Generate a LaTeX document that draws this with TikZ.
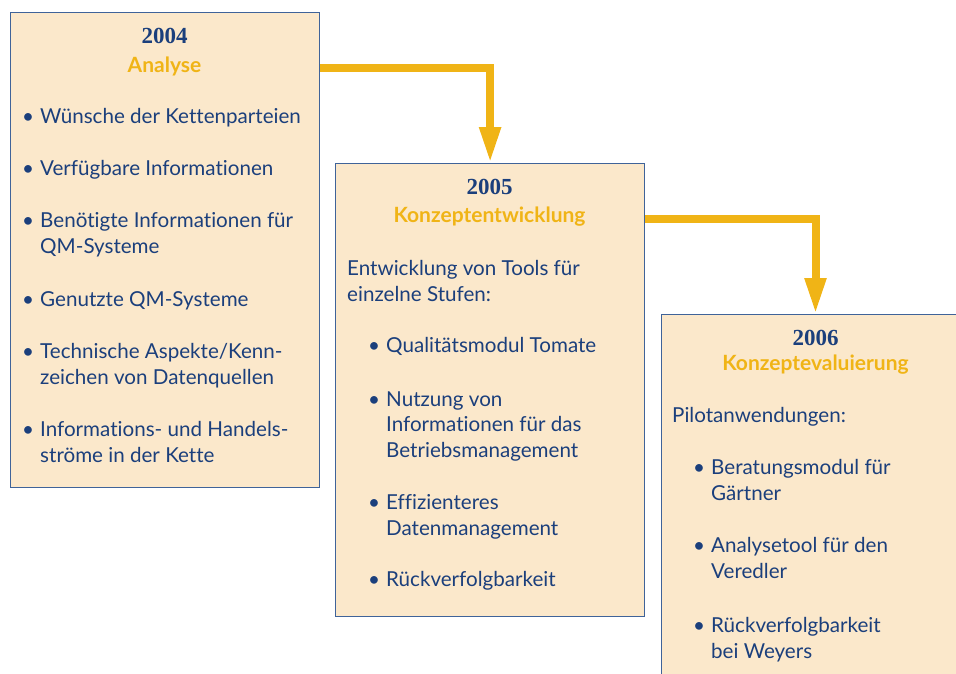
\documentclass[tikz,border=0pt]{standalone}
\usepackage{fontspec}
\setmainfont[Ligatures=NoCommon]{Lato}
\newfontfamily\yearfont{Liberation Serif}
\usetikzlibrary{arrows.meta}
\definecolor{ink}{HTML}{1B3F7C}
\definecolor{gold}{HTML}{F0B416}
\definecolor{paper}{HTML}{FBE8CB}
\definecolor{frame}{HTML}{3F6399}
\tikzset{
  panel/.style={draw=frame, line width=1.2pt, fill=paper, inner sep=0pt,
    minimum width=309pt, anchor=north west},
  body/.style={anchor=base west, inner sep=0pt, text=ink,
    font=\fontsize{20.6}{26}\selectfont},
  dot/.style={anchor=base, inner sep=0pt, text=ink,
    font=\fontsize{20.6}{26}\selectfont},
  year/.style={anchor=base, inner sep=0pt, text=ink,
    font=\yearfont\bfseries\fontsize{23}{26}\selectfont},
  phase/.style={anchor=base, inner sep=0pt, text=gold,
    font=\bfseries\fontsize{21}{26}\selectfont},
  flow/.style={draw=gold, line width=8pt,
    -{Triangle[width=20pt,length=36pt]}}
}
\newcommand\txtline[3]{\node[body] (#1) at (#2) {#3};}
\newcommand\bulpt[2]{\node[dot] (#1) at (#2) {\textbullet};}
\begin{document}
\begin{tikzpicture}[x=1pt,y=-1pt]
\useasboundingbox (0,0) rectangle (956,673);
\clip (0,0) rectangle (956,673);

% phase panels (the last one runs past the right and bottom edges)
\node[panel, minimum height=475pt] (b1) at (10,12) {};
\node[panel, minimum height=453pt] (b2) at (335,163) {};
\node[panel, minimum height=453pt, minimum width=340pt] (b3) at (661,314) {};

% connectors between phases
\coordinate (r1) at (0,68);
\coordinate (r2) at (0,219);
\coordinate (c3) at (815.5,0);
\draw[flow] (b1.east |- r1) -| (b2.north);
\draw[flow] (b2.east |- r2) -| (c3 |- b3.north);

% 2004
\node[year]  (y1) at (164.5,43) {2004};
\node[phase] (p1) at (164.5,72) {Analyse};
\bulpt{d11}{28,123} \txtline{t11}{40,123}{Wünsche der Kettenparteien}
\bulpt{d12}{28,175} \txtline{t12}{40,175}{Verfügbare Informationen}
\bulpt{d13}{28,227} \txtline{t13}{40,227}{Benötigte Informationen für}
                    \txtline{t13b}{40,253}{QM-Systeme}
\bulpt{d14}{28,306} \txtline{t14}{40,306}{Genutzte QM-Systeme}
\bulpt{d15}{28,358} \txtline{t15}{40,358}{Technische Aspekte/Kenn-}
                    \txtline{t15b}{40,384}{zeichen von Datenquellen}
\bulpt{d16}{28,436} \txtline{t16}{40,436}{Informations- und Handels-}
                    \txtline{t16b}{40,462}{ströme in der Kette}

% 2005
\node[year]  (y2) at (489.5,194) {2005};
\node[phase] (p2) at (489.5,222) {Konzeptentwicklung};
\txtline{t20}{347,275}{Entwicklung von Tools für}
\txtline{t20b}{347,301}{einzelne Stufen:}
\bulpt{d21}{374,352} \txtline{t21}{386,352}{Qualitätsmodul Tomate}
\bulpt{d22}{374,406} \txtline{t22}{386,406}{Nutzung von}
                     \txtline{t22b}{386,431}{Informationen für das}
                     \txtline{t22c}{386,457}{Betriebsmanagement}
\bulpt{d23}{374,509} \txtline{t23}{386,509}{Effizienteres}
                     \txtline{t23b}{386,535}{Datenmanagement}
\bulpt{d24}{374,586} \txtline{t24}{386,586}{Rückverfolgbarkeit}

% 2006
\node[year]  (y3) at (815.5,345) {2006};
\node[phase] (p3) at (815.5,370) {Konzeptevaluierung};
\txtline{t30}{672,422}{Pilotanwendungen:}
\bulpt{d31}{699,474} \txtline{t31}{711,474}{Beratungsmodul für}
                     \txtline{t31b}{711,500}{Gärtner}
\bulpt{d32}{699,552} \txtline{t32}{711,552}{Analysetool für den}
                     \txtline{t32b}{711,578}{Veredler}
\bulpt{d33}{699,632} \txtline{t33}{711,632}{Rückverfolgbarkeit}
                     \txtline{t33b}{711,658}{bei Weyers}
\end{tikzpicture}
\end{document}
